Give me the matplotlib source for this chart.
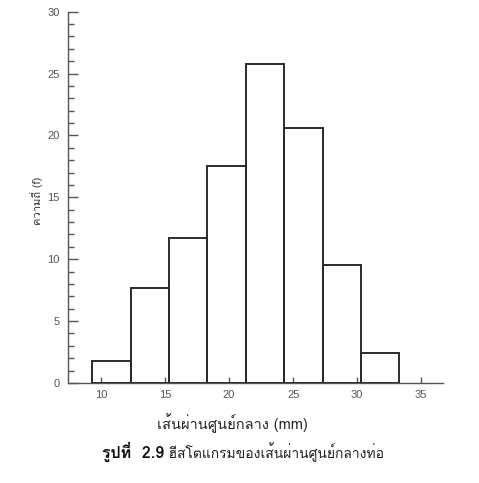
import matplotlib
matplotlib.use("Agg")
import matplotlib.pyplot as plt
from matplotlib.ticker import MultipleLocator

# Data
bin_edges = [9.3, 12.3, 15.3, 18.3, 21.3, 24.3, 27.3, 30.3, 33.3]
frequencies = [1.8, 7.7, 11.7, 17.5, 25.8, 20.6, 9.5, 2.4]
x_ticks = [10, 15, 20, 25, 30, 35]
y_ticks = [0, 5, 10, 15, 20, 25, 30]

ylabel = "ความถี่ (f)"
xlabel = "เส้นผ่านศูนย์กลาง (mm)"
cap_bold = "รูปที่  2.9"
cap_rest = " ฮีสโตแกรมของเส้นผ่านศูนย์กลางท่อ"

thai = ["Loma", "DejaVu Sans"]
plt.rcParams["font.family"] = ["Liberation Sans", "DejaVu Sans"]

W, H = 479, 483
fig = plt.figure(figsize=(W / 100, H / 100), dpi=100)
ax = fig.add_axes([68 / W, 1 - 383 / H, (443 - 68) / W, (383 - 11.7) / H])

widths = [bin_edges[i + 1] - bin_edges[i] for i in range(len(frequencies))]
ax.bar(bin_edges[:-1], frequencies, width=widths, align="edge",
       fill=False, edgecolor="#2a2a2a", linewidth=1.4, zorder=3)

ax.set_xlim(7.42, 36.7)
ax.set_ylim(0, 30)
ax.set_xticks(x_ticks)
ax.set_yticks(y_ticks)
ax.yaxis.set_minor_locator(MultipleLocator(1))
for s in ["top", "right"]:
    ax.spines[s].set_visible(False)
for s in ["left", "bottom"]:
    ax.spines[s].set_color("#555555")
    ax.spines[s].set_linewidth(1.0)

ax.tick_params(axis="y", which="major", direction="in", length=7, width=1.0,
               color="#555555", labelsize=8, labelcolor="#555555", pad=6)
ax.tick_params(axis="y", which="minor", direction="in", length=4, width=1.0,
               color="#555555")
ax.tick_params(axis="x", which="major", direction="in", length=4.5, width=1.0,
               color="#555555", labelsize=8, labelcolor="#555555", pad=5)

fig.text(37 / W, 1 - 201 / H, ylabel, rotation=90, ha="center", va="center",
         fontsize=8, family=thai, color="#333333")
fig.text(232 / W, 1 - 423 / H, xlabel, ha="center", va="center",
         fontsize=10.5, family=thai, color="#222222")

t1 = fig.text(102 / W, 1 - 452 / H, cap_bold, ha="left", va="center",
              fontsize=11.5, family=thai, weight="bold", color="#111111")
fig.canvas.draw()
bb = t1.get_window_extent(fig.canvas.get_renderer())
fig.text(bb.x1 / W, 1 - 452 / H, cap_rest, ha="left", va="center",
         fontsize=10, family=thai, color="#222222")

fig.savefig("out.png", dpi=100)
